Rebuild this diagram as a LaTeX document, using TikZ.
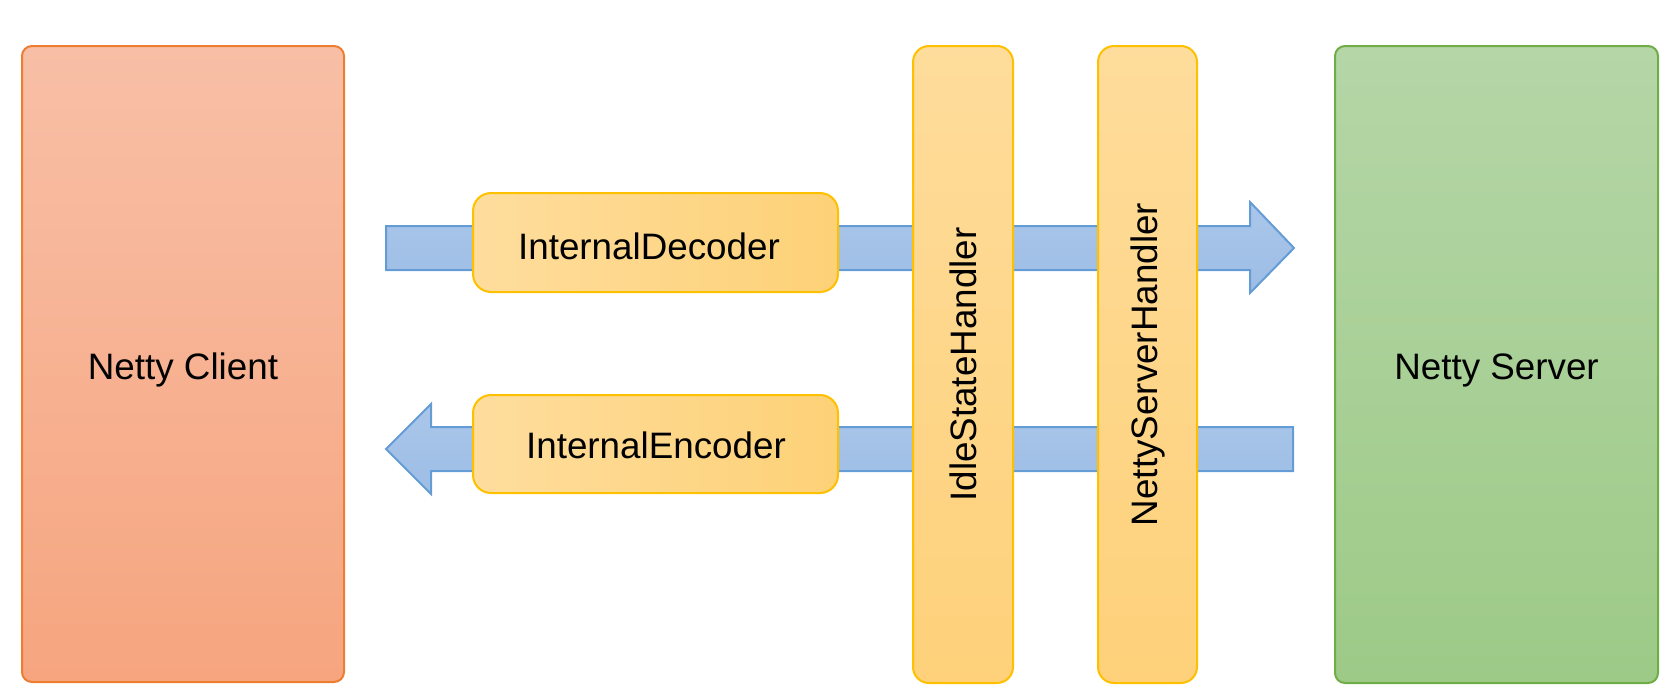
\documentclass[tikz,border=0pt]{standalone}
\usepackage{fontspec}
\setmainfont{Liberation Sans}
\begin{document}
\begin{tikzpicture}[x=1pt,y=-1pt,
  lbl/.style={font=\fontsize{36.8}{44}\selectfont, text=black},
  endbox/.style={rounded corners=10pt, line width=2pt, inner sep=0pt},
  clientbox/.style={endbox, draw={rgb,255:red,237;green,125;blue,49},
     top color={rgb,255:red,248;green,191;blue,166}, bottom color={rgb,255:red,246;green,165;blue,127}},
  serverbox/.style={endbox, draw={rgb,255:red,112;green,173;blue,71},
     top color={rgb,255:red,181;green,214;blue,167}, bottom color={rgb,255:red,157;green,202;blue,135}},
  handlerbox/.style={rounded corners=16pt, line width=2pt, inner sep=0pt, draw={rgb,255:red,255;green,192;blue,0},
     top color={rgb,255:red,254;green,220;blue,155}, bottom color={rgb,255:red,254;green,209;blue,122}},
  codecbox/.style={rounded corners=18pt, line width=2pt, inner sep=0pt, draw={rgb,255:red,255;green,192;blue,0},
     left color={rgb,255:red,254;green,221;blue,157}, right color={rgb,255:red,253;green,209;blue,119},
     minimum width=365pt},
  blockarrow/.style={line width=2pt, draw={rgb,255:red,100;green,156;blue,214}, line join=miter,
     top color={rgb,255:red,170;green,198;blue,234}, bottom color={rgb,255:red,157;green,189;blue,229}}
]
\useasboundingbox (0,0) rectangle (1676,694);

% block arrows (behind everything)
\coordinate (upS) at (386,248);
\coordinate (upT) at (1294,248);
\coordinate (dnS) at (1293,449);
\coordinate (dnT) at (386,449);
\path[blockarrow] (upS) ++(0,-22) -- ++(864,0) -- ++(0,-24) -- (upT) -- (1250,293) -- ++(0,-23) -- ++(-864,0) -- cycle;
\path[blockarrow] (dnS) ++(0,-22) -- (431,427) -- (431,404) -- (dnT) -- (431,494) -- (431,471) -- (1293,471) -- cycle;

% end boxes
\node[clientbox, minimum width=322pt, minimum height=636pt] (client) at (183,364) {};
\node[lbl, yshift=-6pt] (clienttext) at (client.center) {Netty Client};
\node[serverbox, minimum width=323pt, minimum height=637pt] (server) at (1496.5,364.5) {};
\node[lbl, yshift=-6pt] (servertext) at (server.center) {Netty Server};

% handlers
\node[handlerbox, minimum width=100pt, minimum height=637pt] (idle) at (963,364.5) {};
\node[lbl, rotate=90] (idletext) at (idle.center) {IdleStateHandler};
\node[handlerbox, minimum width=99pt, minimum height=637pt] (nsh) at (1147.5,364.5) {};
\node[lbl, rotate=90] (nshtext) at (nsh.center) {NettyServerHandler};

% codecs
\node[codecbox, minimum height=99pt] (dec) at (655.5,242.5) {};
\node[lbl] (dectext) at (649,246) {InternalDecoder};
\node[codecbox, minimum height=98pt] (enc) at (655.5,444) {};
\node[lbl] (enctext) at (656,445) {InternalEncoder};
\end{tikzpicture}
\end{document}
